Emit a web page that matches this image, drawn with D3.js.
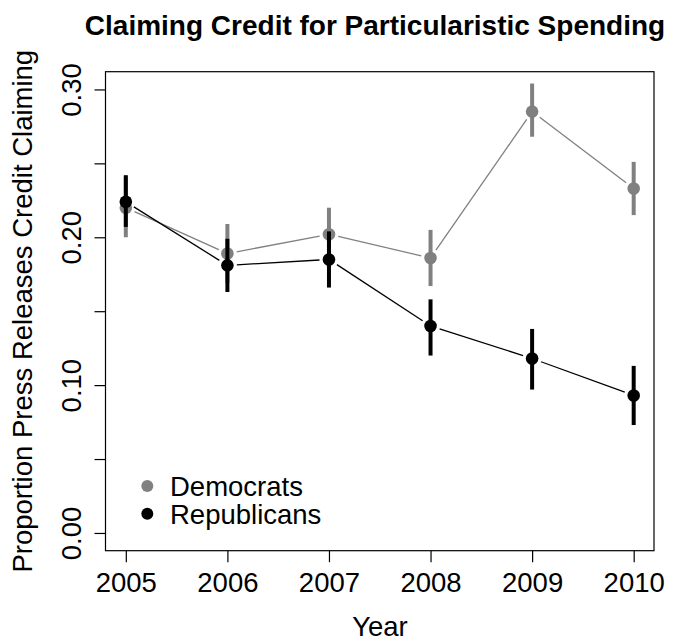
<!DOCTYPE html>
<html>
<head>
<meta charset="utf-8">
<script src="https://cdn.jsdelivr.net/npm/d3@7"></script>
<style>
  html, body { margin: 0; padding: 0; background: #fff; }
  svg { display: block; }
  text { font-family: "Liberation Sans", Arial, Helvetica, sans-serif; }
</style>
</head>
<body>
<svg id="chart" width="679" height="640"></svg>
<script>
const years = [2005, 2006, 2007, 2008, 2009, 2010];
const demMean  = [0.220, 0.189, 0.202, 0.186, 0.285, 0.233];
const demLower = [0.200, 0.169, 0.184, 0.167, 0.268, 0.215];
const demUpper = [0.241, 0.209, 0.220, 0.205, 0.304, 0.251];
const repMean  = [0.224, 0.181, 0.185, 0.140, 0.118, 0.093];
const repLower = [0.207, 0.163, 0.166, 0.120, 0.097, 0.073];
const repUpper = [0.242, 0.199, 0.204, 0.158, 0.138, 0.113];
const yTicks = [0, 0.05, 0.10, 0.15, 0.20, 0.25, 0.30];
const yTickLabels = ["0.00", "", "0.10", "", "0.20", "", "0.30"];
const seriesNames = ["Democrats", "Republicans"];
const seriesColors = ["#808080", "#000000"];

(function () {
const svg = d3.select("#chart");
const pLeft = 105.5, pRight = 654, pTop = 71.7, pBottom = 550.7;
const fs = 27.5;
const ff = '"Liberation Sans", Arial, Helvetica, sans-serif';

// R-style 4% expansion
const xs = d3.scaleLinear().domain([2004.8, 2010.2]).range([pLeft, pRight]);
const ys = d3.scaleLinear().domain([-0.012, 0.312]).range([pBottom, pTop]);

const series = [
  {mean: demMean, lo: demLower, hi: demUpper, color: seriesColors[0]},
  {mean: repMean, lo: repLower, hi: repUpper, color: seriesColors[1]}
];

const gap = 9.5;
series.forEach(s => {
  const g = svg.append("g");
  for (let i = 0; i < years.length - 1; i++) {
    const x1 = xs(years[i]), y1 = ys(s.mean[i]);
    const x2 = xs(years[i+1]), y2 = ys(s.mean[i+1]);
    const dx = x2 - x1, dy = y2 - y1, L = Math.hypot(dx, dy);
    const ux = dx / L, uy = dy / L;
    g.append("line")
      .attr("x1", x1 + ux * gap).attr("y1", y1 + uy * gap)
      .attr("x2", x2 - ux * gap).attr("y2", y2 - uy * gap)
      .attr("stroke", s.color).attr("stroke-width", 1.3);
  }
  g.selectAll("line.err").data(years).enter().append("line")
    .attr("class", "err")
    .attr("x1", d => xs(d)).attr("x2", d => xs(d))
    .attr("y1", (d, i) => ys(s.lo[i])).attr("y2", (d, i) => ys(s.hi[i]))
    .attr("stroke", s.color).attr("stroke-width", 4);
  g.selectAll("circle").data(years).enter().append("circle")
    .attr("cx", d => xs(d)).attr("cy", (d, i) => ys(s.mean[i]))
    .attr("r", 6.3).attr("fill", s.color);
});

svg.append("rect")
  .attr("x", pLeft).attr("y", pTop)
  .attr("width", pRight - pLeft).attr("height", pBottom - pTop)
  .attr("fill", "none").attr("stroke", "#000").attr("stroke-width", 1.2);

const xAxis = svg.append("g")
  .attr("transform", `translate(0,${pBottom})`)
  .call(d3.axisBottom(xs).tickValues(years).tickFormat(d3.format("d")).tickSize(11.5).tickSizeOuter(0));
xAxis.select(".domain").remove();
xAxis.selectAll(".tick line").attr("stroke", "#000").attr("stroke-width", 1.2);
xAxis.selectAll(".tick text")
  .attr("y", 41.5).attr("dy", 0)
  .attr("fill", "#000")
  .style("font-size", fs + "px")
  .style("font-family", ff);

const yAxis = svg.append("g")
  .attr("transform", `translate(${pLeft},0)`)
  .call(d3.axisLeft(ys).tickValues(yTicks).tickFormat((d, i) => yTickLabels[i]).tickSize(11).tickSizeOuter(0));
yAxis.select(".domain").remove();
yAxis.selectAll(".tick line").attr("stroke", "#000").attr("stroke-width", 1.2);
yAxis.selectAll(".tick text")
  .attr("transform", "rotate(-90)")
  .attr("x", 0).attr("y", -25).attr("dy", 0)
  .attr("text-anchor", "middle")
  .attr("fill", "#000")
  .style("font-size", fs + "px")
  .style("font-family", ff);

svg.append("text")
  .attr("x", 375).attr("y", 34.5)
  .attr("text-anchor", "middle")
  .style("font-size", "28px").style("font-weight", "bold")
  .text("Claiming Credit for Particularistic Spending");

svg.append("text")
  .attr("x", 380).attr("y", 636)
  .attr("text-anchor", "middle")
  .style("font-size", fs + "px")
  .text("Year");

svg.append("text")
  .attr("transform", `translate(32,${(pTop + pBottom) / 2}) rotate(-90)`)
  .attr("text-anchor", "middle")
  .style("font-size", fs + "px")
  .text("Proportion Press Releases Credit Claiming");

const leg = svg.append("g");
seriesNames.forEach((name, i) => {
  leg.append("circle")
    .attr("cx", 147.3).attr("cy", 486 + i * 27.7)
    .attr("r", 6).attr("fill", seriesColors[i]);
  leg.append("text")
    .attr("x", 170).attr("y", 496 + i * 27.7)
    .style("font-size", fs + "px")
    .text(name);
});
})();
</script>
</body>
</html>
